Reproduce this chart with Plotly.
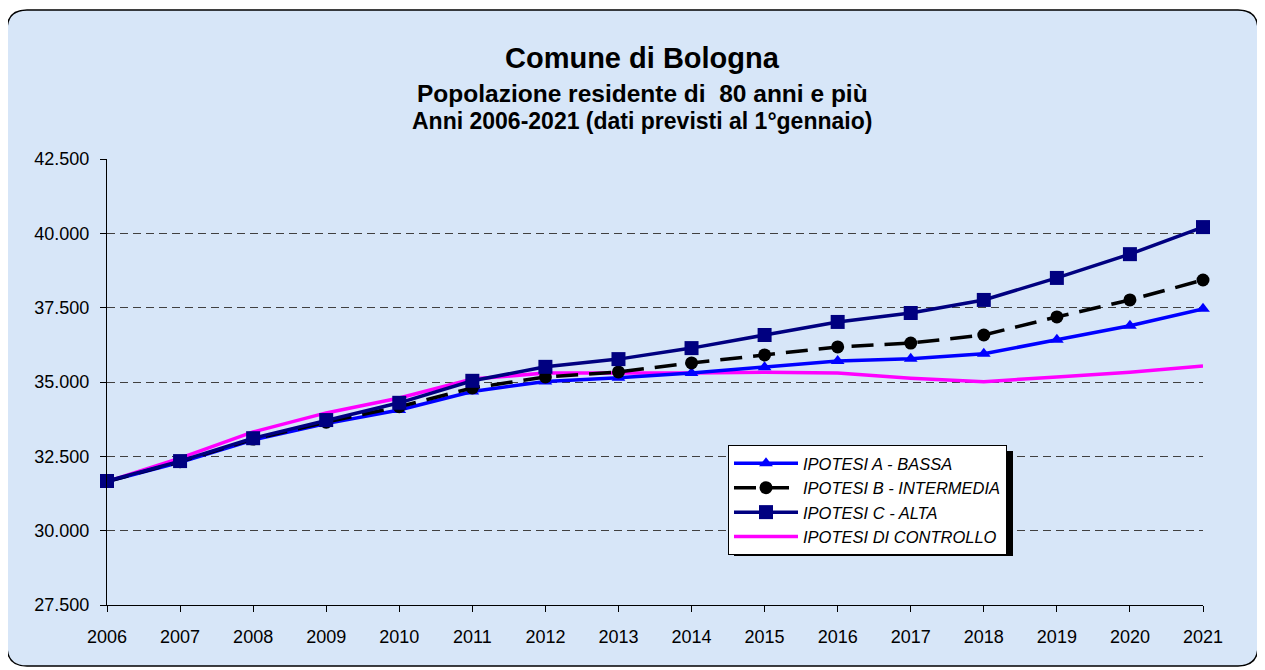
import plotly.graph_objects as go

years = list(range(2006, 2022))
ipotesi_a = [31650, 32300, 33050, 33600, 34060, 34680, 35020, 35140, 35300, 35500, 35710, 35780, 35950, 36420, 36890, 37460]
ipotesi_b = [31650, 32320, 33080, 33650, 34170, 34800, 35170, 35340, 35640, 35910, 36180, 36310, 36580, 37190, 37760, 38430]
ipotesi_c = [31670, 32340, 33110, 33720, 34300, 35040, 35510, 35770, 36140, 36580, 37020, 37320, 37760, 38500, 39300, 40210]
controllo = [31650, 32440, 33320, 33960, 34460, 35100, 35300, 35300, 35300, 35330, 35300, 35130, 35010, 35170, 35330, 35540]

names = ["IPOTESI A - BASSA", "IPOTESI B - INTERMEDIA", "IPOTESI C - ALTA", "IPOTESI DI CONTROLLO"]
y_ticks = [27500, 30000, 32500, 35000, 37500, 40000, 42500]

W, H = 1265, 670
OFF = 8  # page body margin
L, R, T, B = 107 - OFF, 1203 - OFF, 159 - OFF, 605 - OFF

def px(x):
    return (x - OFF - L) / (R - L)

def py(y):
    return (B - (y - OFF)) / (B - T)

fig = go.Figure()
fig.add_trace(go.Scatter(x=years, y=controllo, name=names[3], mode="lines",
                         line=dict(color="#ff00ff", width=3.5), legendrank=4, legendgroup="d",
                         cliponaxis=False))
fig.add_trace(go.Scatter(x=years, y=ipotesi_a, name=names[0], mode="lines+markers",
                         line=dict(color="#0000ff", width=3.5),
                         marker=dict(symbol="triangle-up", size=12, color="#0000ff"),
                         legendrank=1, legendgroup="a", cliponaxis=False))
fig.add_trace(go.Scatter(x=years, y=ipotesi_b, name=names[1], mode="lines+markers",
                         line=dict(color="#000000", width=3.5, dash="22px,11px"),
                         marker=dict(symbol="circle", size=13, color="#000000"),
                         legendrank=2, legendgroup="b", cliponaxis=False))
fig.add_trace(go.Scatter(x=years, y=ipotesi_c, name=names[2], mode="lines+markers",
                         line=dict(color="#000080", width=3.5),
                         marker=dict(symbol="square", size=14, color="#000080"),
                         legendrank=3, legendgroup="c", cliponaxis=False))

# rounded background frame
x0, x1, y0, y1, r = 7, 1258, 10, 666, 20
pts = [
    ("M", (x0 + r, y0)), ("L", (x1 - r, y0)), ("Q", (x1, y0), (x1, y0 + r)),
    ("L", (x1, y1 - r)), ("Q", (x1, y1), (x1 - r, y1)), ("L", (x0 + r, y1)),
    ("Q", (x0, y1), (x0, y1 - r)), ("L", (x0, y0 + r)), ("Q", (x0, y0), (x0 + r, y0)),
]
path = ""
for p in pts:
    cmd = p[0]
    coords = " ".join(f"{px(a):.5f},{py(b):.5f}" for a, b in p[1:])
    path += f"{cmd}{coords} "
path += "Z"

shapes = [
    dict(type="path", path=path, xref="paper", yref="paper", layer="below",
         fillcolor="#d7e6f8", line=dict(color="#000000", width=1.5)),
    dict(type="rect", xref="paper", yref="paper", layer="above",
         x0=px(734), x1=px(1013), y0=py(451), y1=py(556),
         fillcolor="#000000", line=dict(width=0)),
]

title_font = "Arial, Liberation Sans, sans-serif"
annotations = [
    dict(text="<b>Comune di Bologna</b>", x=px(642), y=py(58), xref="paper", yref="paper",
         xanchor="center", yanchor="middle",
         showarrow=False, font=dict(size=29, color="#000000", family=title_font)),
    dict(text="<b>Popolazione residente di  80 anni e più</b>", x=px(642), y=py(93), xref="paper", yref="paper",
         xanchor="center", yanchor="middle",
         showarrow=False, font=dict(size=24.5, color="#000000", family=title_font)),
    dict(text="<b>Anni 2006-2021 (dati previsti al 1°gennaio)</b>", x=px(642), y=py(121), xref="paper", yref="paper",
         xanchor="center", yanchor="middle",
         showarrow=False, font=dict(size=23, color="#000000", family=title_font)),
]

fig.update_layout(
    width=W, height=H,
    margin=dict(l=L, r=W - R, t=T, b=H - B, pad=0),
    paper_bgcolor="#ffffff",
    plot_bgcolor="rgba(0,0,0,0)",
    separators=",.",
    font=dict(family=title_font, color="#000000", size=18),
    shapes=shapes,
    annotations=annotations,
    showlegend=True,
    legend=dict(x=px(728), y=py(445), xanchor="left", yanchor="top",
                bgcolor="#ffffff", bordercolor="#000000", borderwidth=1,
                font=dict(size=16.5, family=title_font, color="#000000"),
                tracegroupgap=0, itemwidth=64),
    xaxis=dict(range=[2006, 2021], tickmode="array", tickvals=years, ticktext=[str(y) for y in years],
               showgrid=False, zeroline=False, showline=True, linecolor="#000000", linewidth=1,
               ticks="outside", ticklen=6, tickcolor="#000000", ticklabelstandoff=9,
               tickfont=dict(size=18)),
    yaxis=dict(range=[27500, 42500], tickmode="array", tickvals=y_ticks, tickformat=",.0f",
               showgrid=True, gridcolor="#404040", griddash="8px,5px", gridwidth=1,
               zeroline=False, showline=True, linecolor="#000000", linewidth=1,
               ticks="outside", ticklen=6, tickcolor="#000000", ticklabelstandoff=7,
               tickfont=dict(size=18)),
)

# italic legend text
for tr in fig.data:
    tr.name = f"<i>{tr.name}</i>"

fig.write_html("out.html")
